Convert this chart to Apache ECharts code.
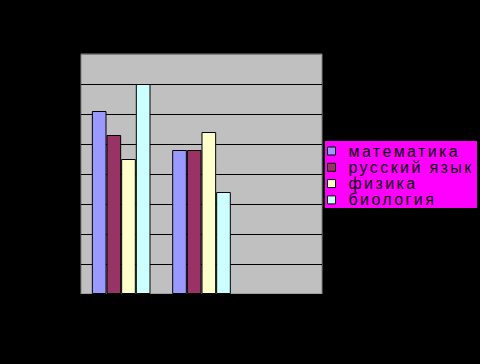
<!DOCTYPE html>
<html>
<head>
<meta charset="utf-8">
<script src="https://cdn.jsdelivr.net/npm/echarts@6/dist/echarts.min.js"></script>
<style>
html,body{margin:0;padding:0;background:#000;}
#chart{width:480px;height:364px;}
#chart svg text{letter-spacing:2.4px;}
</style>
</head>
<body>
<div id="chart"></div>
<script>
var categories = ['1', '2', '3'];
var seriesNames = ['математика', 'русский язык', 'физика', 'биология'];
var matematika = [61, 48, null];
var russkiy = [53, 48, null];
var fizika = [45, 54, null];
var biologiya = [70, 34, null];
var colors = ['#9999FF', '#993366', '#FFFFCC', '#CCFFFF'];
var yTicks = [0, 10, 20, 30, 40, 50, 60, 70, 80];

var values = [matematika, russkiy, fizika, biologiya];
var chart = echarts.init(document.getElementById('chart'), null, {renderer: 'svg'});
var gridColors = yTicks.map(function (t, i) { return i === yTicks.length - 1 ? '#808080' : '#000000'; });

chart.setOption({
  backgroundColor: '#000000',
  animation: false,
  grid: {
    left: 81, right: 158, top: 54, bottom: 70,
    show: true, backgroundColor: '#C0C0C0', borderColor: '#808080', borderWidth: 1
  },
  graphic: [{
    type: 'rect', left: 325, top: 141, z: 0,
    shape: {width: 152, height: 67},
    style: {fill: '#FF00FF'}
  }],
  legend: {
    orient: 'vertical', left: 327, top: 143, padding: 0, itemGap: 0.3,
    itemWidth: 8, itemHeight: 8, icon: 'rect', z: 10,
    itemStyle: {borderColor: '#000', borderWidth: 1},
    textStyle: {color: '#000', fontFamily: 'Liberation Sans', fontWeight: 'normal', fontSize: 16, lineHeight: 16, padding: [0, 0, 0, 8]},
    data: seriesNames
  },
  xAxis: {
    type: 'category', data: categories,
    axisLine: {show: false}, axisTick: {show: false}, axisLabel: {show: false}
  },
  yAxis: {
    type: 'value', min: 0, max: 80, interval: 10,
    axisLine: {show: false}, axisTick: {show: false}, axisLabel: {show: false},
    splitLine: {show: true, lineStyle: {color: gridColors, width: 1}}
  },
  series: seriesNames.map(function (n, i) {
    return {
      name: n, type: 'bar', data: values[i],
      barGap: '0%', barCategoryGap: '27%',
      itemStyle: {color: colors[i], borderColor: '#000', borderWidth: 1}
    };
  })
});
</script>
</body>
</html>
